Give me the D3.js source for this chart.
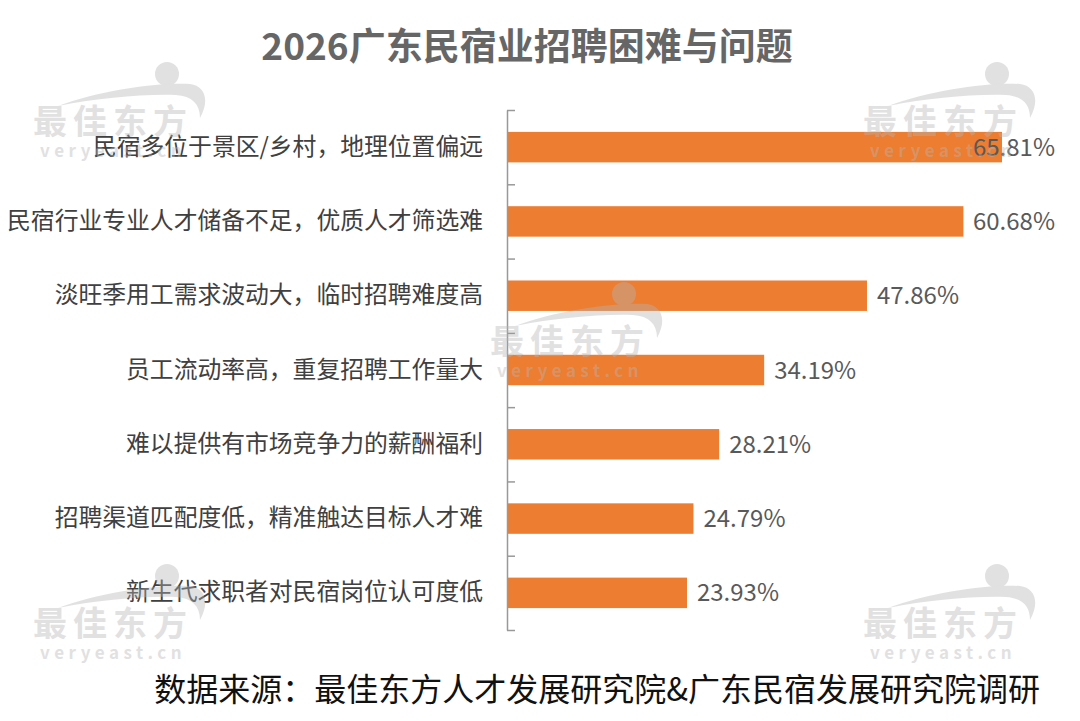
<!DOCTYPE html>
<html>
<head>
<meta charset="utf-8">
<script src="https://cdn.jsdelivr.net/npm/d3@7"></script>
<style>
  body { margin: 0; background: #fff; }
  text { font-family: "Microsoft YaHei", "Noto Sans CJK SC", sans-serif; }
</style>
</head>
<body>
<div id="chart"></div>
<script>
var categories = [
  "民宿多位于景区/乡村，地理位置偏远",
  "民宿行业专业人才储备不足，优质人才筛选难",
  "淡旺季用工需求波动大，临时招聘难度高",
  "员工流动率高，重复招聘工作量大",
  "难以提供有市场竞争力的薪酬福利",
  "招聘渠道匹配度低，精准触达目标人才难",
  "新生代求职者对民宿岗位认可度低"
];
var values = [65.81, 60.68, 47.86, 34.19, 28.21, 24.79, 23.93];

var title = "2026广东民宿业招聘困难与问题";
var source = "数据来源：最佳东方人才发展研究院&广东民宿发展研究院调研";

var width = 1080, height = 721;
var axisX = 507, plotTop = 110, plotBottom = 630, plotRight = 1055;

var svg = d3.select("#chart").append("svg")
    .attr("width", width).attr("height", height);

var x = d3.scaleLinear().domain([0, 65.81]).range([axisX, 1002]);
var y = d3.scaleBand().domain(categories).range([plotTop, plotBottom]).paddingInner(0.59).paddingOuter(0.295);
var edges = d3.scaleLinear().domain([0, categories.length]).range([plotTop, plotBottom]);

// title
svg.append("text")
    .attr("x", 527).attr("y", 60)
    .attr("text-anchor", "middle")
    .attr("font-size", 37).attr("font-weight", "bold")
    .attr("fill", "#666")
    .text(title);

// bars
svg.selectAll("rect.bar").data(values).enter().append("rect")
    .attr("class", "bar")
    .attr("x", x(0))
    .attr("y", function(d, i){ return y(categories[i]); })
    .attr("width", function(d){ return x(d) - x(0); })
    .attr("height", y.bandwidth())
    .attr("fill", "#ED7D31");

// value labels (pushed back inside the plot area when they would run past it)
svg.selectAll("text.val").data(values).enter().append("text")
    .attr("class", "val")
    .attr("y", function(d, i){ return y(categories[i]) + y.bandwidth() / 2; })
    .attr("dy", "0.36em")
    .attr("font-size", 24)
    .attr("fill", "#595959")
    .text(function(d){ return d.toFixed(2) + "%"; })
    .attr("x", function(d){
      var w = this.getComputedTextLength();
      return Math.min(x(d) + 10, plotRight - w);
    });

// axis line with ticks between categories
var axis = svg.append("g")
    .attr("transform", "translate(" + axisX + ",0)")
    .call(d3.axisLeft(edges).tickValues(d3.range(categories.length + 1))
        .tickSizeInner(-8).tickSizeOuter(0).tickFormat(""));
axis.selectAll("path,line").attr("stroke", "#999").attr("stroke-width", 1.5);

// category labels
var lab = svg.append("g")
    .attr("transform", "translate(" + (axisX - 24) + ",0)")
    .call(d3.axisLeft(y).tickSize(0).tickPadding(0));
lab.select(".domain").remove();
lab.selectAll("text")
    .attr("font-size", 23.8)
    .attr("fill", "#404040")
    .style("font-family", "\"Microsoft YaHei\", \"Noto Sans CJK SC\", sans-serif");

// source
svg.append("text")
    .attr("x", 1040).attr("y", 701)
    .attr("text-anchor", "end")
    .attr("font-size", 32)
    .attr("fill", "#111")
    .text(source);

// watermarks
var marks = [[0, 0], [830, 0], [457, 220], [0, 502], [830, 502]];
marks.forEach(function(m){
  var g = svg.append("g")
      .attr("transform", "translate(" + m[0] + "," + m[1] + ")")
      .attr("opacity", 0.4)
      .attr("fill", "#b5b5b5");
  g.append("circle").attr("cx", 167).attr("cy", 74).attr("r", 12);
  g.append("path")
      .attr("d", "M58,106 C100,90 160,82 190,84 C205,86 210,100 200,118 C200,104 192,96 176,95 C140,94 100,98 58,106 Z");
  g.append("text")
      .attr("x", 33).attr("y", 134)
      .attr("font-size", 34).attr("font-weight", "bold")
      .attr("letter-spacing", 6)
      .text("最佳东方");
  g.append("text")
      .attr("x", 40).attr("y", 157)
      .attr("font-size", 17).attr("font-weight", "bold")
      .attr("letter-spacing", 4.5)
      .attr("font-family", "DejaVu Sans, sans-serif")
      .text("veryeast.cn");
});
</script>
</body>
</html>
